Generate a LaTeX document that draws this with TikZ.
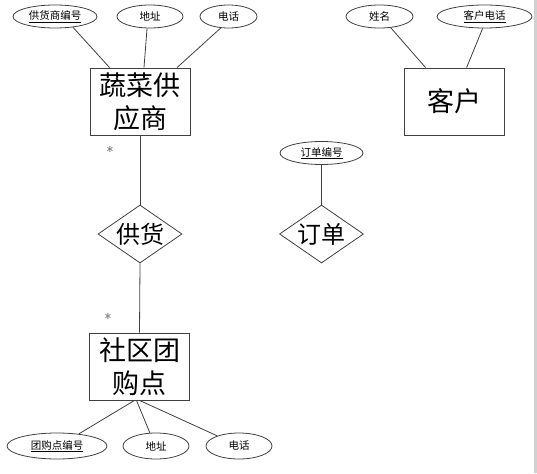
\documentclass[tikz,border=0pt]{standalone}
\usepackage{fontspec}
\newfontfamily\cjk{Noto Sans CJK SC}
\usetikzlibrary{shapes.geometric,calc}
\begin{document}
\begin{tikzpicture}[x=1pt,y=-1pt,
  every node/.style={font=\cjk},
  ln/.style={draw=black!75,line width=0.8pt},
  entity/.style={ln,rectangle,minimum width=100pt,minimum height=67pt,inner sep=0pt,align=center,font=\cjk\fontsize{27}{33}\selectfont},
  attr/.style={ln,ellipse,minimum height=23pt,inner sep=0pt,font=\cjk\fontsize{10.5}{12}\selectfont},
  rel/.style={ln,diamond,aspect=1.45,minimum width=84pt,minimum height=58pt,inner sep=0pt,font=\cjk\fontsize{24}{28}\selectfont},
  card/.style={inner sep=0pt,font=\fontsize{15}{15}\selectfont}]
\useasboundingbox (0,0) rectangle (537,473);
\fill[black!18] (534,0) rectangle (537,473);
% entities
\node[entity] (v) at (140,101.5) {蔬菜供\\应商};
\node[entity] (c) at (454,101.5) {客户};
\node[entity] (s) at (139.5,366.5) {社区团\\购点};
% relations
\node[rel] (gh) at (140,234) {供货};
\node[rel] (dd) at (321.5,234) {订单};
% attributes
\node[attr,minimum width=84pt] (a1) at (55,16.5) {\underline{供货商编号}};
\node[attr,minimum width=66pt] (a2) at (150,16.5) {地址};
\node[attr,minimum width=57pt] (a3) at (228.5,16.5) {电话};
\node[attr,minimum width=67pt] (a4) at (379.5,16.5) {姓名};
\node[attr,minimum width=95pt] (a5) at (484.5,16.5) {\underline{客户电话}};
\node[attr,minimum width=83pt] (a6) at (321.5,153) {\underline{订单编号}};
\node[attr,minimum width=100pt,minimum height=26pt] (b1) at (57,446) {\underline{团购点编号}};
\node[attr,minimum width=66pt,minimum height=26pt] (b2) at (156,446) {地址};
\node[attr,minimum width=66pt,minimum height=26pt] (b3) at (239,446) {电话};
% cardinalities
\node[card] (k1) at (110,152) {*};
\node[card] (k2) at (108,319) {*};
% connectors
\draw[ln] (a1.-31) -- ($(v.north west)+(20,0)$);
\draw[ln] (a2.-104) -- ($(v.north)+(4,0)$);
\draw[ln] (a3.-124) -- ($(v.north)+(37,0)$);
\draw[ln] (a4.-45) -- ($(c.north west)+(22,0)$);
\draw[ln] (a5.-99) -- ($(c.north west)+(63,0)$);
\draw[ln] (a6.south) -- (dd.north);
\draw[ln] (v.south) -- (gh.north);
\draw[ln] (gh.south) -- (s.north);
\draw[ln] ($(s.south)+(-5,0)$) -- (b1.29.5);
\draw[ln] ($(s.south)+(-3,0)$) -- (b2.115);
\draw[ln] ($(s.south)+(0,0)$) -- (b3.155);
\end{tikzpicture}
\end{document}
